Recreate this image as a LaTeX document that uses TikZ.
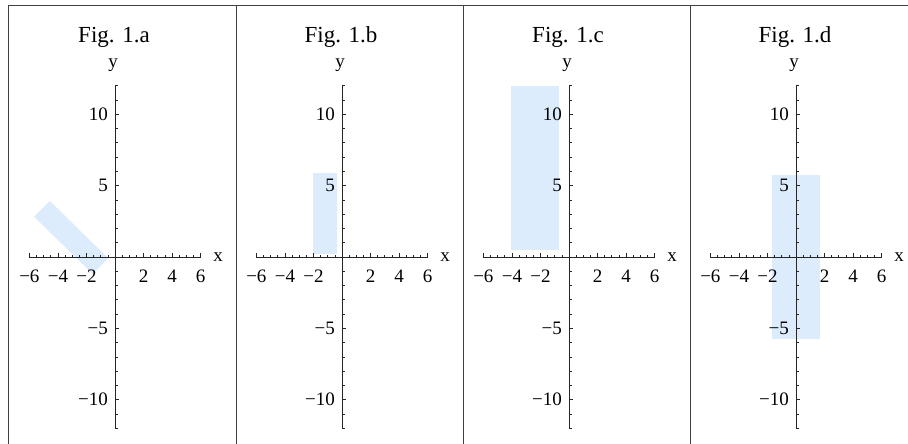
\documentclass[tikz,border=0pt]{standalone}
\usepackage{fontspec}
\setmainfont{Liberation Serif}
\definecolor{regfill}{RGB}{221,236,252}
\tikzset{
  border/.style={draw=black!75, line width=1pt},
  axisline/.style={draw=black!85, line width=0.9pt},
  ticksty/.style={draw=black!85, line width=0.7pt},
  lab/.style={inner sep=0pt, font=\fontsize{19}{19}\selectfont},
  ttl/.style={inner sep=0pt, font=\fontsize{23}{23}\selectfont, anchor=base},
  region/.style={fill=regfill, draw=none},
}
\newcommand\panelaxes[2]{%
  \draw[axisline] (-6,0) -- (6,0);
  \draw[axisline] (0,-12) -- (0,12);
  \foreach \i in {-12,...,12} \draw[ticksty] (\i*0.5,0) -- ++(0pt,2.5pt);
  \foreach \i in {-6,-4,-2,2,4,6} \draw[ticksty] (\i,0) -- ++(0pt,4pt);
  \foreach \i in {-12,...,12} \draw[ticksty] (0,\i) -- ++(2.5pt,0pt);
  \foreach \i in {-10,-5,5,10} \draw[ticksty] (0,\i) -- ++(4pt,0pt);
  \foreach \v/\s/\n in {-6/−6/m6,-4/−4/m4,-2/−2/m2,2/2/p2,4/4/p4,6/6/p6}
    \node[lab] (#1x\n) at ([yshift=-19pt]\v,0) {\s};
  \foreach \v/\s/\n in {10/10/p10,5/5/p5,-5/−5/m5,-10/−10/m10}
    \node[lab,anchor=east] (#1y\n) at ([xshift=-7pt]0,\v) {\s};
  \node[lab] (#1xl) at ([xshift=103pt]0,0) {x};
  \node[lab] (#1yl) at ([xshift=-2pt,yshift=192pt]0,0) {y};
  \node[ttl] (#1t) at ([xshift=-1pt,yshift=214pt]0,0) {#2};
}
\begin{document}
\begin{tikzpicture}[x=1pt,y=-1pt]
\useasboundingbox (0,0) rectangle (908,444);
\fill[white] (0,0) rectangle (908,444);
\draw[border] (8.5,444) -- (8.5,5.5) -- (908,5.5);
\foreach \xx in {236,463,690} \draw[border] (\xx,5.5) -- (\xx,444);
% panel a
\begin{scope}[shift={(115,257)},x=14.27pt,y=14.27pt]
  \fill[region] (-5.68,2.83) -- (-4.56,3.92) -- (-0.47,-0.09) -- (-1.56,-1.19) -- cycle;
  \panelaxes{a}{Fig. 1.a}
\end{scope}
% panel b
\begin{scope}[shift={(342,257)},x=14.27pt,y=14.27pt]
  \fill[region] (-2.03,0.19) rectangle (-0.33,5.91);
  \panelaxes{b}{Fig. 1.b}
\end{scope}
% panel c
\begin{scope}[shift={(569,257)},x=14.27pt,y=14.27pt]
  \fill[region] (-4.06,0.5) rectangle (-0.70,12.0);
  \panelaxes{c}{Fig. 1.c}
\end{scope}
% panel d
\begin{scope}[shift={(796,257)},x=14.27pt,y=14.27pt]
  \fill[region] (-1.68,-5.75) rectangle (1.68,5.75);
  \panelaxes{d}{Fig. 1.d}
\end{scope}
\end{tikzpicture}
\end{document}
